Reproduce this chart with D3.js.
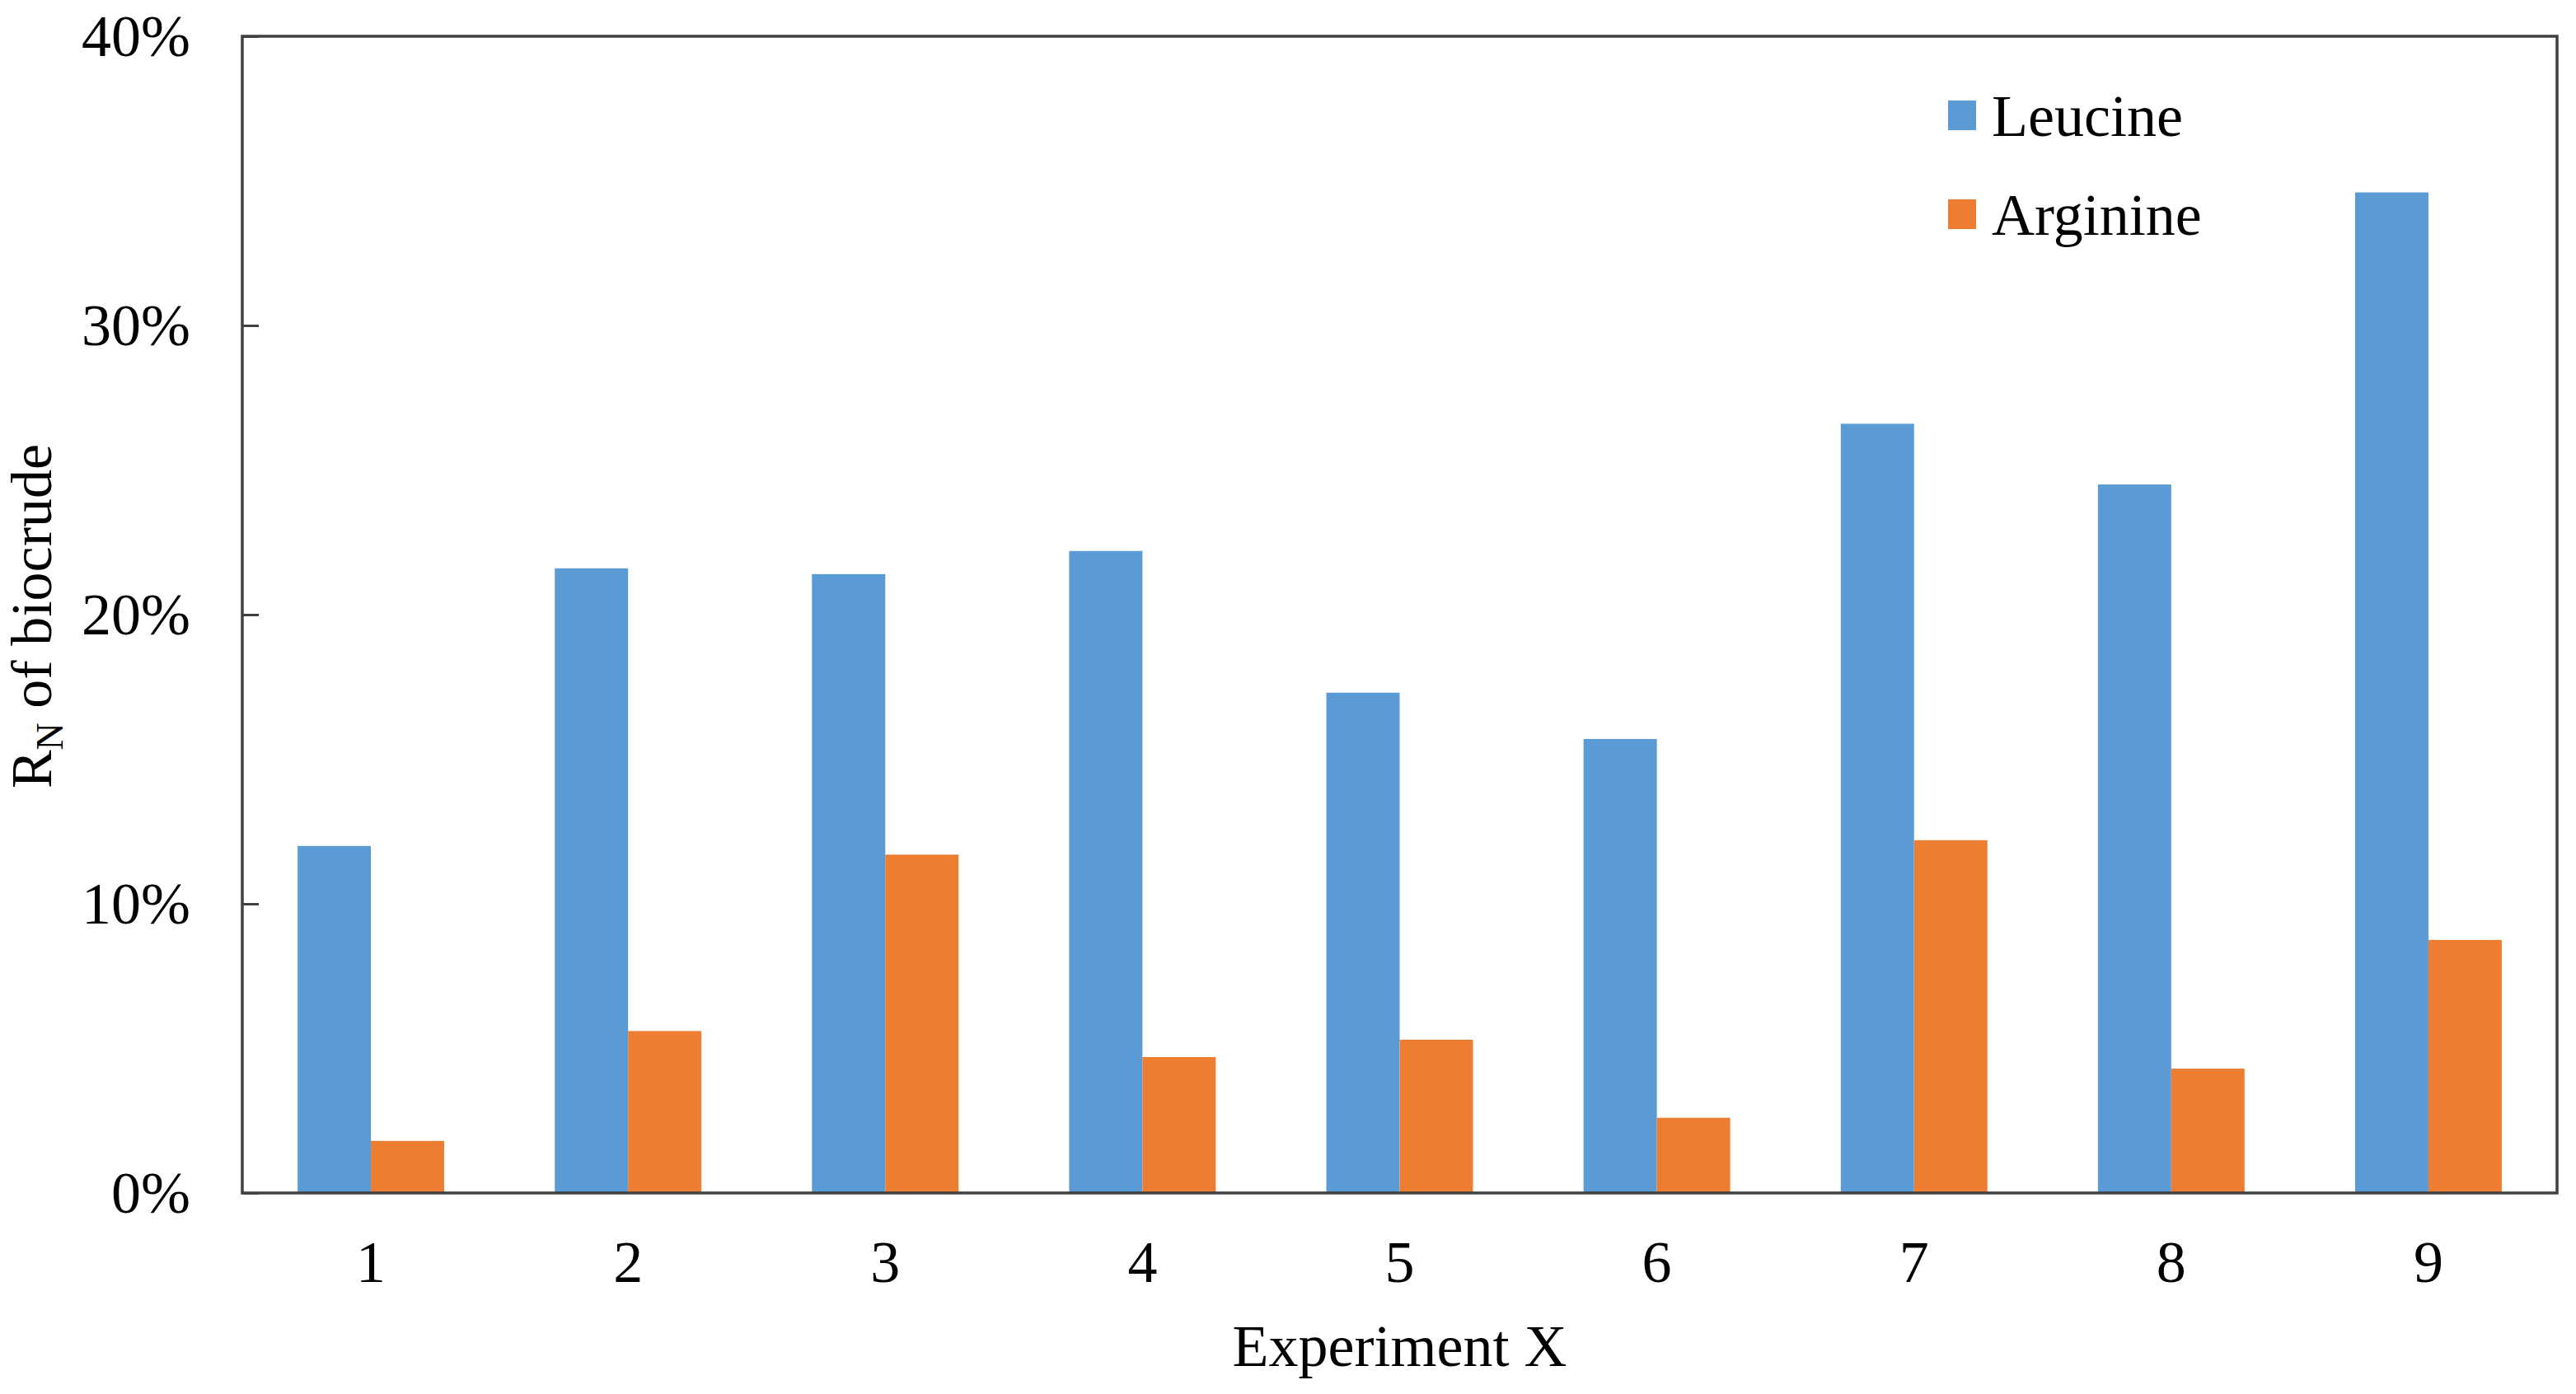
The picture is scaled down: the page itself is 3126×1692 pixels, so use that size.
<!DOCTYPE html>
<html>
<head>
<meta charset="utf-8">
<script src="https://cdn.jsdelivr.net/npm/d3@7"></script>
<style>
  body { margin: 0; background: #fff; }
  text { font-family: "Liberation Serif", "Times New Roman", serif; fill: #000; }
</style>
</head>
<body>
<svg width="3126" height="1692"></svg>
<script>
const experiments = ["1", "2", "3", "4", "5", "6", "7", "8", "9"]
const seriesNames = ["Leucine", "Arginine"]
const leucine = [0.120, 0.216, 0.214, 0.222, 0.173, 0.157, 0.266, 0.245, 0.346]
const arginine = [0.018, 0.056, 0.117, 0.047, 0.053, 0.026, 0.122, 0.043, 0.0875]
const yTicks = [0, 0.1, 0.2, 0.3, 0.4]
const colors = ["#5B9BD5", "#ED7D31"]

const margin = { top: 44, right: 23, bottom: 244, left: 294 }
const width = 3126 - margin.left - margin.right
const height = 1692 - margin.top - margin.bottom

let svg = d3.select("svg")
let g = svg.append("g")
           .attr("transform", `translate(${margin.left}, ${margin.top})`)

let x0 = d3.scaleBand()
           .domain(experiments)
           .range([0, width])
           .paddingInner(0.43)
           .paddingOuter(0.215)

let x1 = d3.scaleBand()
           .domain(seriesNames)
           .range([0, x0.bandwidth()])

let y = d3.scaleLinear()
          .domain([0, 0.4])
          .range([height, 0])

let rows = experiments.map((e, i) => ({ exp: e, values: [leucine[i], arginine[i]] }))

let groups = g.selectAll("g.group")
              .data(rows)
              .enter()
              .append("g")
              .attr("class", "group")
              .attr("transform", d => `translate(${x0(d.exp)}, 0)`)

groups.selectAll("rect")
      .data(d => d.values.map((v, i) => ({ name: seriesNames[i], value: v, idx: i })))
      .enter()
      .append("rect")
      .attr("x", d => x1(d.name))
      .attr("y", d => y(d.value))
      .attr("width", x1.bandwidth())
      .attr("height", d => height - y(d.value))
      .attr("fill", d => colors[d.idx])

// y axis, ticks pointing inward
let yAxis = g.append("g")
             .call(d3.axisLeft(y)
                     .tickValues(yTicks)
                     .tickFormat(d3.format(".0%"))
                     .tickSize(-20)
                     .tickPadding(63))
yAxis.select(".domain").remove()
yAxis.selectAll("line").attr("stroke", "#404040").attr("stroke-width", 3)
yAxis.selectAll("text").style("font-size", "72px").style("font-family", "Liberation Serif")

let xAxis = g.append("g")
             .attr("transform", `translate(0, ${height})`)
             .call(d3.axisBottom(x0).tickSize(0).tickPadding(57))
xAxis.select(".domain").remove()
xAxis.selectAll("text").style("font-size", "72px").style("font-family", "Liberation Serif")

// frame
g.append("rect")
 .attr("x", 0)
 .attr("y", 0)
 .attr("width", width)
 .attr("height", height)
 .attr("fill", "none")
 .attr("stroke", "#404040")
 .attr("stroke-width", 3.5)

// legend
let legend = g.append("g")
              .attr("transform", `translate(${2364 - margin.left}, ${122 - margin.top})`)

legend.selectAll("rect")
      .data(seriesNames)
      .enter()
      .append("rect")
      .attr("x", 0)
      .attr("y", (d, i) => i * 120)
      .attr("width", 34)
      .attr("height", 36)
      .attr("fill", (d, i) => colors[i])

legend.selectAll("text")
      .data(seriesNames)
      .enter()
      .append("text")
      .attr("x", 53)
      .attr("y", (d, i) => i * 120 + 43)
      .style("font-size", "72px")
      .text(d => d)

// axis titles
svg.append("text")
   .attr("x", margin.left + width / 2)
   .attr("y", 1658)
   .attr("text-anchor", "middle")
   .style("font-size", "72px")
   .text("Experiment X")

let yTitle = svg.append("text")
                .attr("transform", "translate(62, 748) rotate(-90)")
                .attr("text-anchor", "middle")
                .style("font-size", "70px")
yTitle.append("tspan").text("R")
yTitle.append("tspan").attr("dy", 14).style("font-size", "46px").text("N")
yTitle.append("tspan").attr("dy", -14).text(" of biocrude")
</script>
</body>
</html>
